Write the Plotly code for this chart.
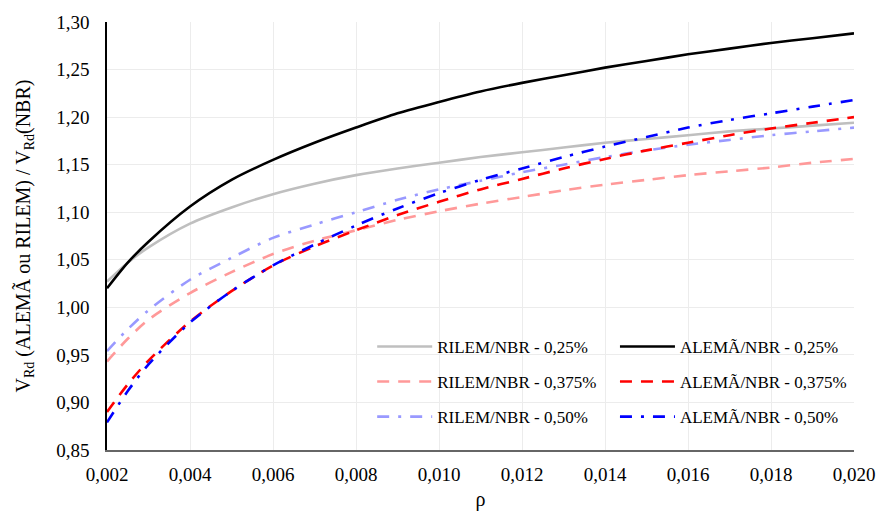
import plotly.graph_objects as go

rho = [0.002, 0.0025, 0.003, 0.004, 0.005, 0.006, 0.007, 0.008, 0.009, 0.010,
       0.011, 0.012, 0.013, 0.014, 0.015, 0.016, 0.017, 0.018, 0.019, 0.020]

rilem_025 = [1.027, 1.047, 1.063, 1.088, 1.105, 1.119, 1.130, 1.139, 1.146, 1.152,
             1.158, 1.163, 1.168, 1.173, 1.177, 1.181, 1.185, 1.188, 1.191, 1.194]
alema_025 = [1.020, 1.047, 1.069, 1.106, 1.134, 1.155, 1.173, 1.189, 1.204, 1.216,
             1.227, 1.236, 1.244, 1.252, 1.259, 1.266, 1.272, 1.278, 1.283, 1.288]
rilem_0375 = [0.943, 0.967, 0.987, 1.015, 1.037, 1.056, 1.070, 1.081, 1.092, 1.101,
              1.109, 1.116, 1.123, 1.129, 1.134, 1.139, 1.143, 1.147, 1.152, 1.156]
alema_0375 = [0.890, 0.919, 0.944, 0.985, 1.017, 1.044, 1.064, 1.081, 1.097, 1.111,
              1.124, 1.135, 1.146, 1.156, 1.165, 1.173, 1.181, 1.188, 1.194, 1.200]
rilem_050 = [0.954, 0.977, 0.997, 1.029, 1.052, 1.073, 1.087, 1.100, 1.113, 1.124,
             1.133, 1.142, 1.150, 1.158, 1.165, 1.171, 1.176, 1.181, 1.185, 1.189]
alema_050 = [0.879, 0.912, 0.940, 0.984, 1.017, 1.044, 1.066, 1.086, 1.104, 1.120,
             1.134, 1.146, 1.158, 1.169, 1.179, 1.189, 1.197, 1.204, 1.211, 1.218]

x_ticks = [0.002, 0.004, 0.006, 0.008, 0.010, 0.012, 0.014, 0.016, 0.018, 0.020]
x_tick_text = ["0,002", "0,004", "0,006", "0,008", "0,010", "0,012", "0,014", "0,016", "0,018", "0,020"]
y_ticks = [0.85, 0.90, 0.95, 1.00, 1.05, 1.10, 1.15, 1.20, 1.25, 1.30]
y_tick_text = ["0,85", "0,90", "0,95", "1,00", "1,05", "1,10", "1,15", "1,20", "1,25", "1,30"]

series = [
    ("RILEM/NBR - 0,25%", rilem_025, "#bfbfbf", "solid", "legend"),
    ("RILEM/NBR - 0,375%", rilem_0375, "#ff9999", "12px,9px", "legend"),
    ("RILEM/NBR - 0,50%", rilem_050, "#9999ff", "12px,9px,3px,9px", "legend"),
    ("ALEMÃ/NBR - 0,25%", alema_025, "#000000", "solid", "legend2"),
    ("ALEMÃ/NBR - 0,375%", alema_0375, "#ff0000", "12px,9px", "legend2"),
    ("ALEMÃ/NBR - 0,50%", alema_050, "#0000ff", "12px,9px,3px,9px", "legend2"),
]

fig = go.Figure()
for i, (name, ys, color, dash, leg) in enumerate(series):
    fig.add_trace(go.Scatter(
        x=rho, y=ys, name=name, mode="lines",
        line=dict(color=color, width=2.6, dash=dash, shape="spline", smoothing=0.8),
        legend=leg, legendgroup=f"g{i}",
    ))

font_family = "Times New Roman, Liberation Serif, DejaVu Serif, serif"
fig.update_layout(
    width=887, height=519,
    margin=dict(l=107, r=25, t=17, b=65),
    plot_bgcolor="white", paper_bgcolor="white",
    font=dict(family=font_family, size=19, color="#000000"),
    showlegend=True,
    legend=dict(x=0.355, y=0.283, xanchor="left", yanchor="top",
                bgcolor="rgba(0,0,0,0)", font=dict(size=17, family=font_family),
                itemwidth=55, traceorder="grouped", tracegroupgap=10),
    legend2=dict(x=0.68, y=0.283, xanchor="left", yanchor="top",
                 bgcolor="rgba(0,0,0,0)", font=dict(size=17, family=font_family),
                 itemwidth=55, traceorder="grouped", tracegroupgap=10),
)
fig.update_xaxes(
    range=[0.002, 0.020], tickvals=x_ticks, ticktext=x_tick_text,
    showgrid=True, gridcolor="#ececec", gridwidth=1,
    showline=True, linecolor="#666666", linewidth=1.5,
    ticks="", zeroline=False, tickfont=dict(size=19, family=font_family),
    ticklabelstandoff=6,
    title=dict(text="ρ", font=dict(size=20, family=font_family), standoff=8),
)
fig.update_yaxes(
    range=[0.85, 1.30], tickvals=y_ticks, ticktext=y_tick_text,
    showgrid=True, gridcolor="#ececec", gridwidth=1,
    showline=True, linecolor="#000000", linewidth=1.5,
    ticks="", zeroline=False, tickfont=dict(size=19, family=font_family),
    ticklabelstandoff=12,
    title=dict(text="V<sub>Rd</sub> (ALEMÃ ou RILEM) / V<sub>Rd</sub>(NBR)",
               font=dict(size=20, family=font_family), standoff=20),
)

fig.write_html("out.html")
